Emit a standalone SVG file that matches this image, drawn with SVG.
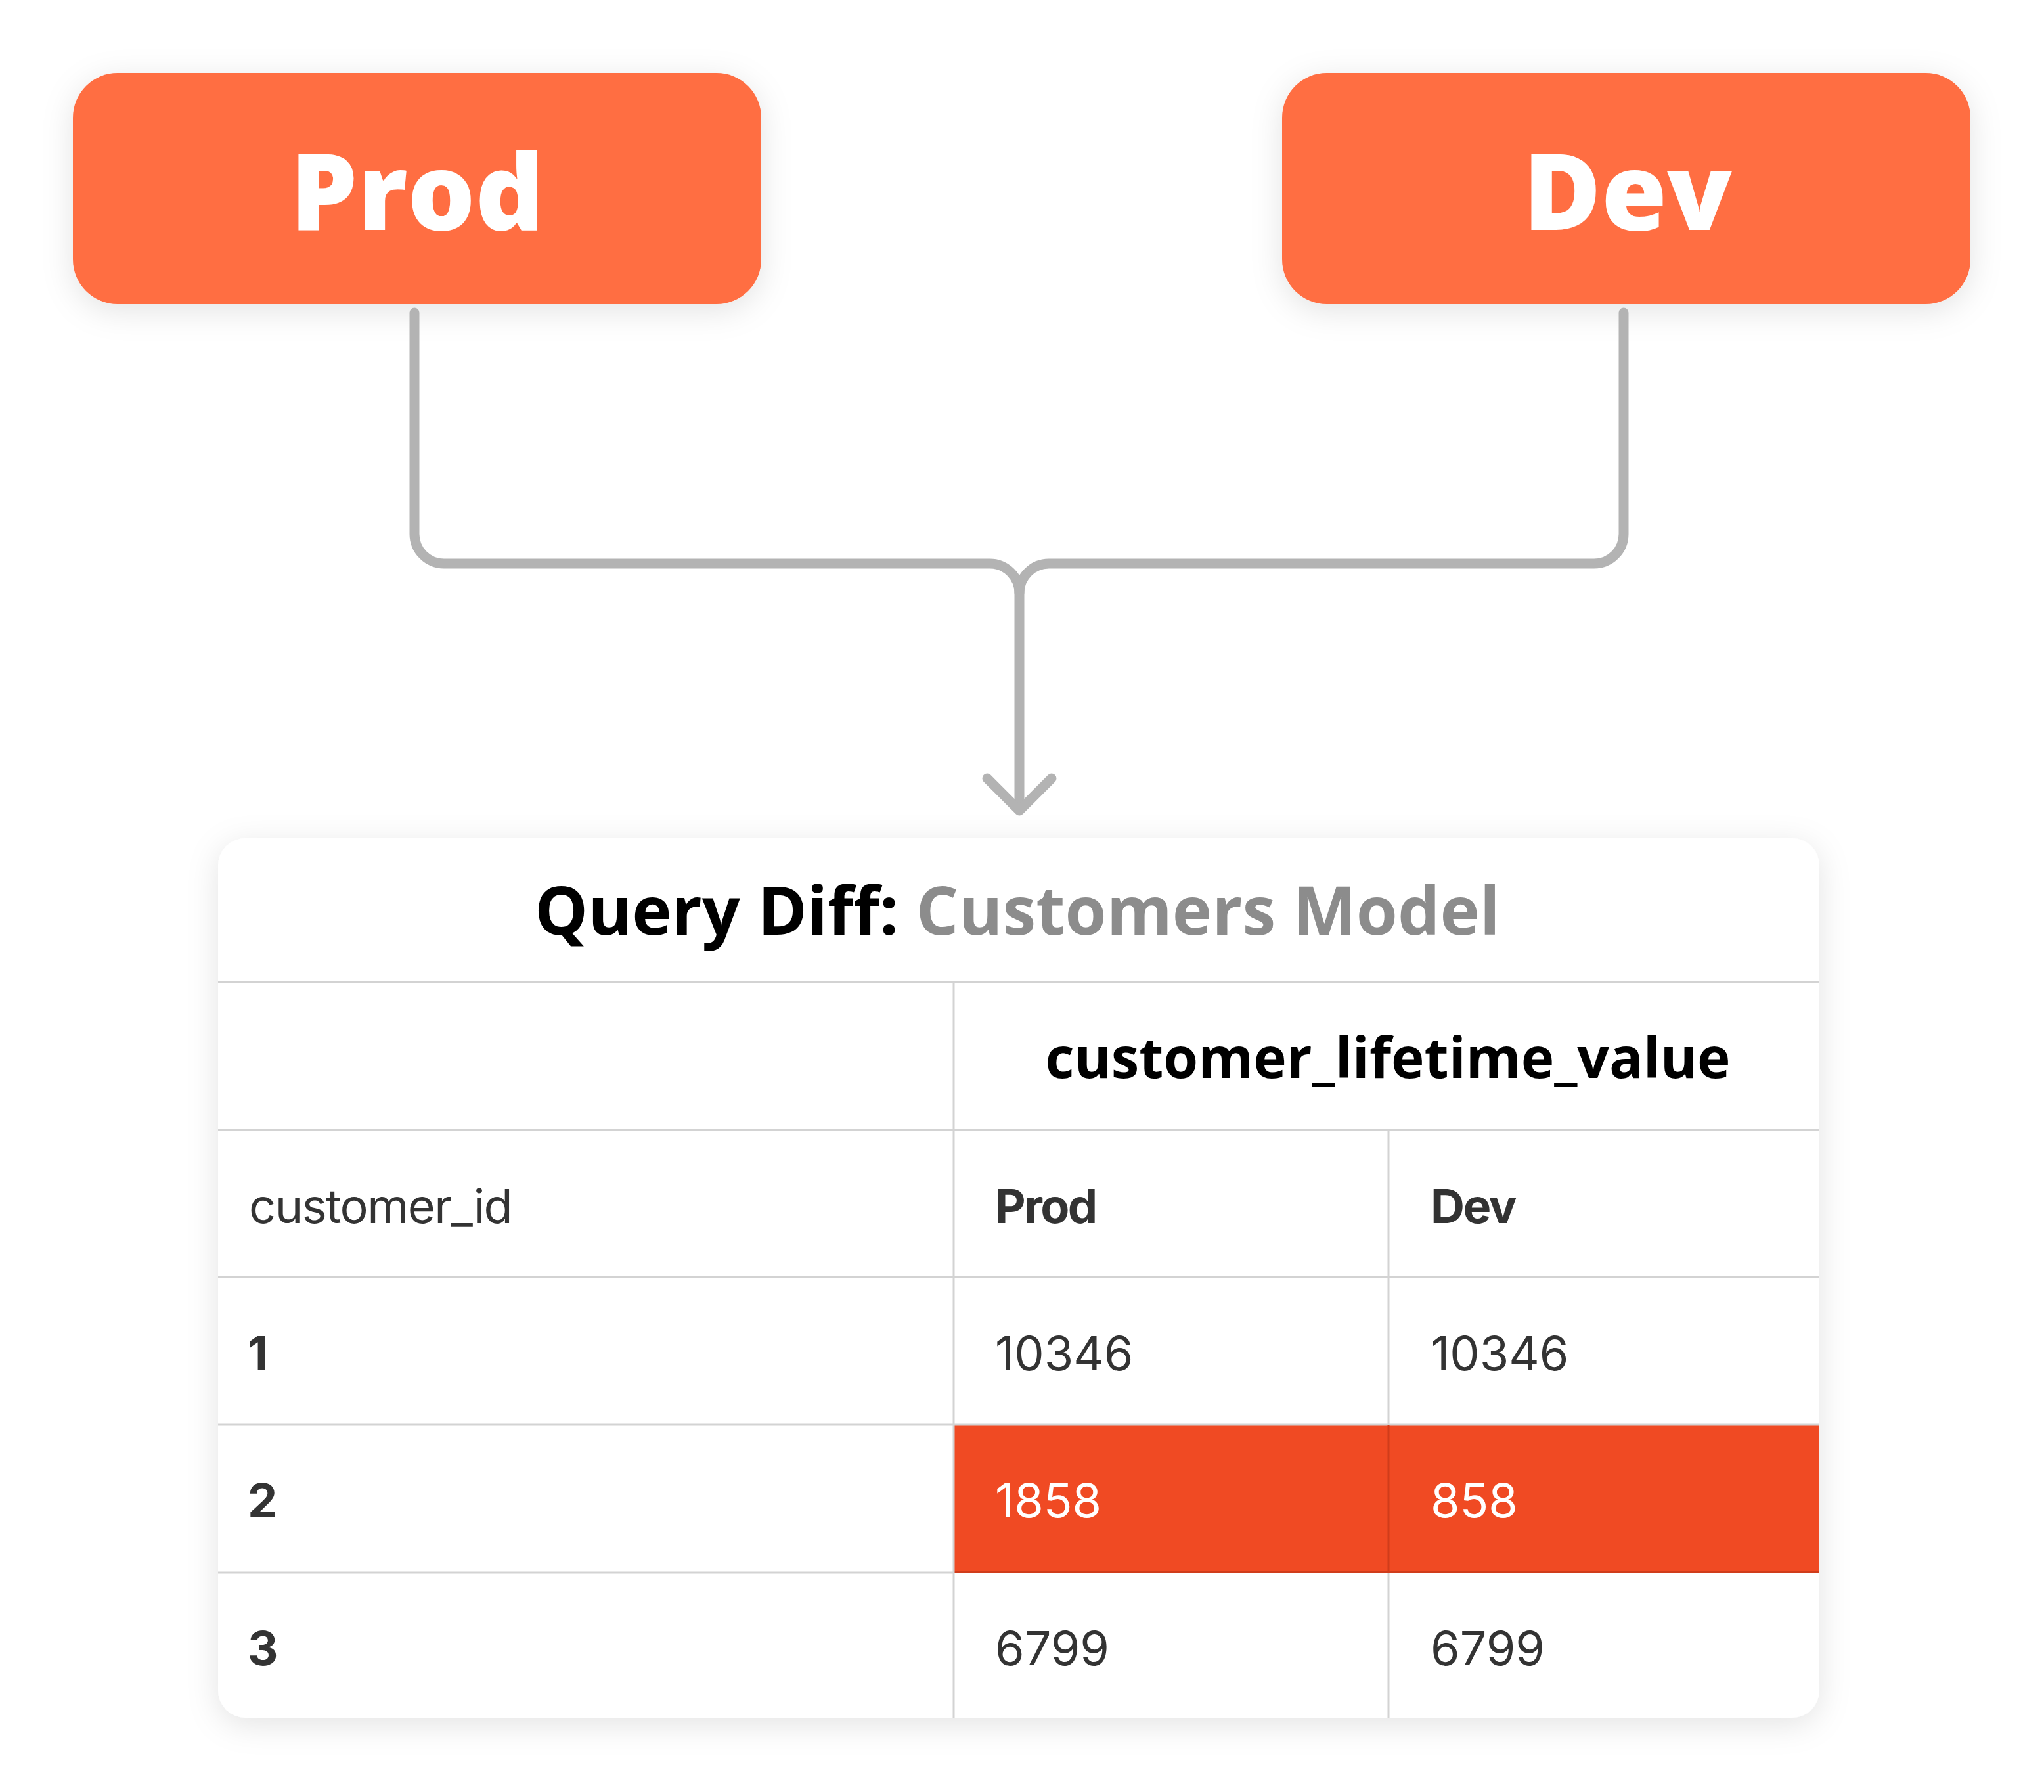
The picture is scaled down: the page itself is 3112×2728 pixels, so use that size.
<svg xmlns="http://www.w3.org/2000/svg" width="3112" height="2728" viewBox="0 0 3112 2728">
  <defs>
    <filter id="shadow" x="-20%" y="-30%" width="140%" height="170%">
      <feDropShadow dx="0" dy="10" stdDeviation="24" flood-color="#000000" flood-opacity="0.11"/>
    </filter>
    <clipPath id="tableClip">
      <rect x="332" y="1276" width="2438" height="1339" rx="42" ry="42"/>
    </clipPath>
  </defs>
  <style>
    .env { fill: #FF6E43; }
    .envText { font-family: "Open Sans", "Liberation Sans", sans-serif; font-weight: 800; font-size: 162px; fill: #FFFFFF; text-anchor: middle; }
    .conn { fill: none; stroke: #B3B3B3; stroke-width: 15; stroke-linecap: round; stroke-linejoin: round; }
    .grid { stroke: #D3D3D3; stroke-width: 3; fill: none; }
    .title { font-family: "Open Sans", "Liberation Sans", sans-serif; font-weight: 700; font-size: 102px; text-anchor: middle; }
    .colhead { font-family: "Open Sans", "Liberation Sans", sans-serif; font-weight: 700; font-size: 85.5px; fill: #000000; text-anchor: middle; }
    .cell { font-family: Inter, "Liberation Sans", sans-serif; font-size: 72px; fill: #333333; }
    .bold { font-weight: 700; }
    .tight { letter-spacing: -1.5px; }
    .tighter { letter-spacing: -2.5px; }
    .diff { fill: #F04A23; }
    .white { fill: #FFFFFF; }
  </style>

  <rect width="3112" height="2728" fill="#FFFFFF"/>

  <g id="node-prod">
    <rect class="env" x="111" y="111" width="1048" height="352" rx="68" ry="68" filter="url(#shadow)"/>
    <text class="envText" x="635" y="350">Prod</text>
  </g>

  <g id="node-dev">
    <rect class="env" x="1952" y="111" width="1048" height="352" rx="68" ry="68" filter="url(#shadow)"/>
    <text class="envText" x="2478" y="350">Dev</text>
  </g>

  <g id="connectors">
    <path class="conn" d="M631,476 V813 A45,45 0 0 0 676,858 H1507 A45,45 0 0 1 1552,903 V1232"/>
    <path class="conn" d="M2472,476 V813 A45,45 0 0 1 2427,858 H1597 A45,45 0 0 0 1552,903"/>
    <path class="conn" d="M1503,1185 L1552,1234 L1601,1185"/>
  </g>

  <g id="node-query-diff">
    <rect x="332" y="1276" width="2438" height="1339" rx="42" ry="42" fill="#FFFFFF" filter="url(#shadow)"/>
    <g clip-path="url(#tableClip)">
      <rect class="diff" x="1452" y="2169" width="1318" height="225"/>
      <line x1="1452" y1="2393" x2="2770" y2="2393" stroke="#D03C1B" stroke-width="3"/>
      <line class="grid" x1="332" y1="1495" x2="2770" y2="1495"/>
      <line class="grid" x1="332" y1="1720" x2="2770" y2="1720"/>
      <line class="grid" x1="332" y1="1944" x2="2770" y2="1944"/>
      <line class="grid" x1="332" y1="2169" x2="2770" y2="2169"/>
      <line class="grid" x1="332" y1="2394" x2="1452" y2="2394"/>
      <line class="grid" x1="1452" y1="1495" x2="1452" y2="2615"/>
      <line class="grid" x1="2114" y1="1720" x2="2114" y2="2169"/>
      <line x1="2114" y1="2169" x2="2114" y2="2394" stroke="#D03C1B" stroke-width="3"/>
      <line class="grid" x1="2114" y1="2394" x2="2114" y2="2615"/>
    </g>
    <text class="title" x="1549" y="1423"><tspan fill="#000000">Query Diff: </tspan><tspan fill="#8C8C8C">Customers Model</tspan></text>
    <text class="colhead" x="2113" y="1641">customer_lifetime_value</text>

    <text class="cell tight" x="379" y="1862">customer_id</text>
    <text class="cell bold tighter" x="1515" y="1862">Prod</text>
    <text class="cell bold tighter" x="2178" y="1862">Dev</text>

    <text class="cell bold" x="377" y="2086">1</text>
    <text class="cell" x="1515" y="2086">10346</text>
    <text class="cell" x="2178" y="2086">10346</text>

    <text class="cell bold" x="377" y="2310">2</text>
    <text class="cell white" x="1515" y="2310">1858</text>
    <text class="cell white" x="2178" y="2310">858</text>

    <text class="cell bold" x="377" y="2535">3</text>
    <text class="cell" x="1515" y="2535">6799</text>
    <text class="cell" x="2178" y="2535">6799</text>
  </g>
</svg>
